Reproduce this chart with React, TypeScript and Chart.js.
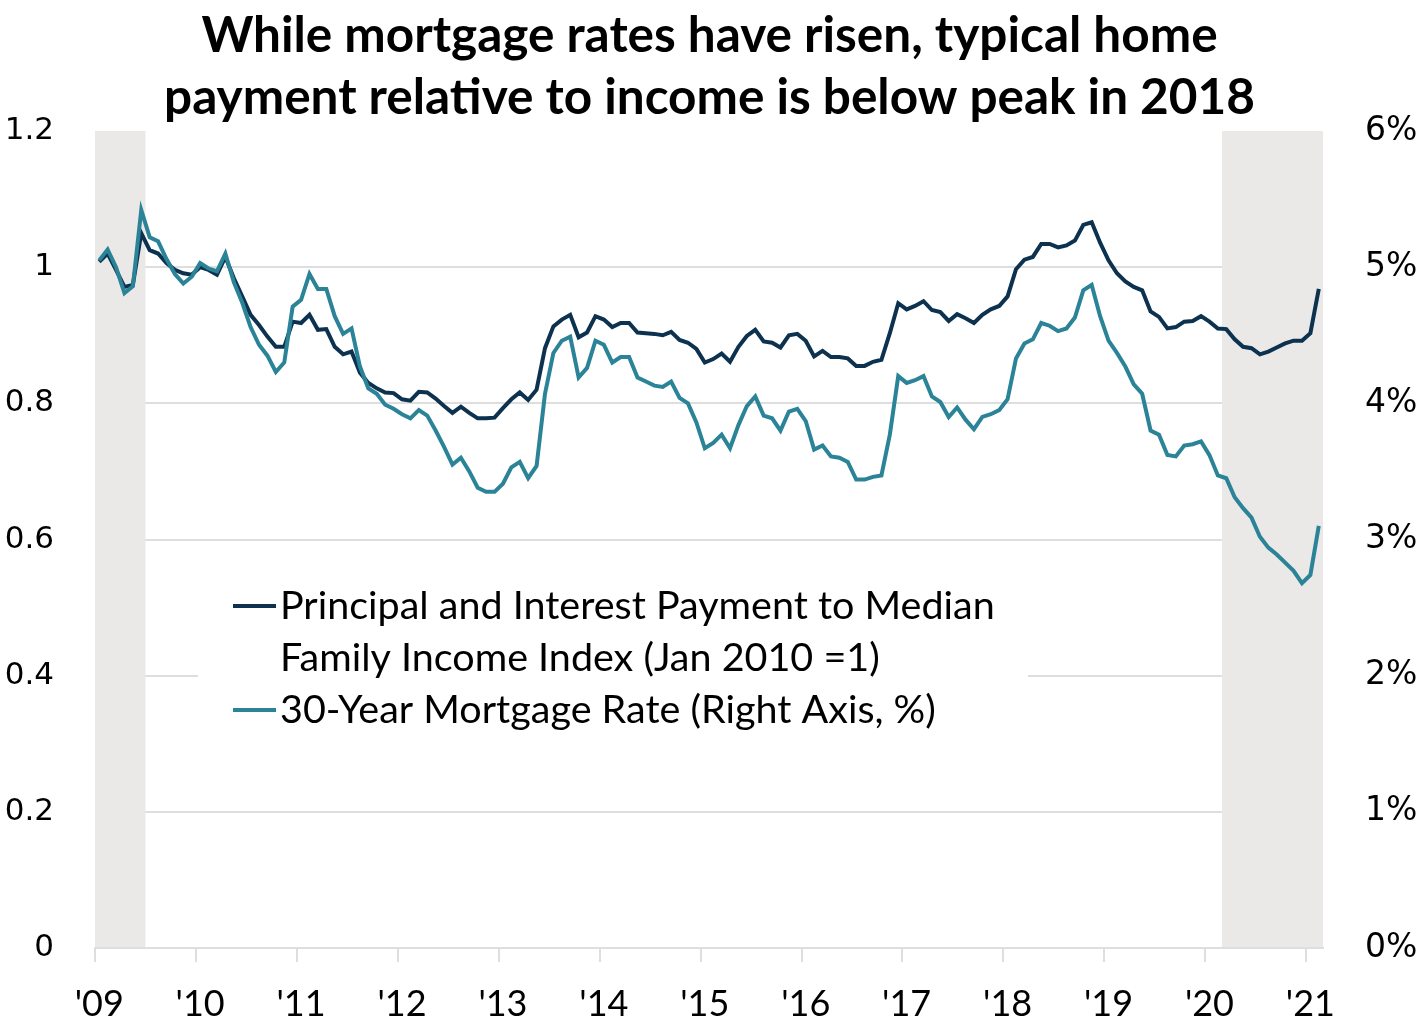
import { useEffect, useRef } from "react";
import { Chart, registerables } from "chart.js";

Chart.register(...registerables);

const TITLE_LINES = [
  "While mortgage rates have risen, typical home",
  "payment relative to income is below peak in 2018",
];

const MONTH_NAMES = ["Jan", "Feb", "Mar", "Apr", "May", "Jun", "Jul", "Aug", "Sep", "Oct", "Nov", "Dec"];
const FIRST_YEAR = 2009;
const MONTH_COUNT = 146; // Jan 2009 through Feb 2021

// Monthly categories, e.g. "Jan 2009"
const categories = Array.from(
  { length: MONTH_COUNT },
  (_, i) => `${MONTH_NAMES[i % 12]} ${FIRST_YEAR + Math.floor(i / 12)}`
);

// One label per January
const yearTickLabels = ["'09", "'10", "'11", "'12", "'13", "'14", "'15", "'16", "'17", "'18", "'19", "'20", "'21"];

// Principal and interest payment to median family income (Jan 2010 = 1)
const paymentToIncomeIndex = [
  1.008, 1.020, 0.996, 0.971, 0.974, 1.050, 1.025, 1.020, 1.006, 0.996, 0.991, 0.989,
  1.000, 0.996, 0.989, 1.015, 0.984, 0.957, 0.930, 0.915, 0.898, 0.883, 0.883, 0.920,
  0.918, 0.930, 0.908, 0.909, 0.883, 0.872, 0.876, 0.845, 0.830, 0.822, 0.816, 0.815,
  0.806, 0.804, 0.817, 0.816, 0.807, 0.796, 0.786, 0.795, 0.786, 0.778, 0.778, 0.779,
  0.793, 0.806, 0.816, 0.805, 0.820, 0.881, 0.913, 0.923, 0.930, 0.897, 0.904, 0.928,
  0.923, 0.912, 0.918, 0.918, 0.904, 0.903, 0.902, 0.900, 0.905, 0.893, 0.889, 0.880,
  0.860, 0.865, 0.873, 0.861, 0.883, 0.899, 0.908, 0.891, 0.889, 0.882, 0.900, 0.902,
  0.892, 0.869, 0.877, 0.868, 0.868, 0.866, 0.855, 0.855, 0.861, 0.864, 0.903, 0.947,
  0.938, 0.943, 0.950, 0.937, 0.934, 0.921, 0.931, 0.925, 0.918, 0.930, 0.938, 0.943,
  0.957, 0.997, 1.011, 1.015, 1.034, 1.034, 1.029, 1.032, 1.039, 1.062, 1.066, 1.036,
  1.010, 0.991, 0.979, 0.971, 0.966, 0.935, 0.927, 0.910, 0.912, 0.920, 0.921, 0.928,
  0.920, 0.910, 0.909, 0.894, 0.883, 0.881, 0.872, 0.876, 0.882, 0.888, 0.892, 0.892,
  0.903, 0.968,
];

// 30-year fixed mortgage rate, monthly average (%)
const mortgageRate = [
  5.05, 5.13, 5.00, 4.81, 4.86, 5.42, 5.22, 5.19, 5.06, 4.95, 4.88, 4.93,
  5.03, 4.99, 4.97, 5.10, 4.89, 4.74, 4.56, 4.43, 4.35, 4.23, 4.30, 4.71,
  4.76, 4.95, 4.84, 4.84, 4.64, 4.51, 4.55, 4.27, 4.11, 4.07, 3.99, 3.96,
  3.92, 3.89, 3.95, 3.91, 3.80, 3.68, 3.55, 3.60, 3.50, 3.38, 3.35, 3.35,
  3.41, 3.53, 3.57, 3.45, 3.54, 4.07, 4.37, 4.46, 4.49, 4.19, 4.26, 4.46,
  4.43, 4.30, 4.34, 4.34, 4.19, 4.16, 4.13, 4.12, 4.16, 4.04, 4.00, 3.86,
  3.67, 3.71, 3.77, 3.67, 3.84, 3.98, 4.05, 3.91, 3.89, 3.80, 3.94, 3.96,
  3.87, 3.66, 3.69, 3.61, 3.60, 3.57, 3.44, 3.44, 3.46, 3.47, 3.77, 4.20,
  4.15, 4.17, 4.20, 4.05, 4.01, 3.90, 3.97, 3.88, 3.81, 3.90, 3.92, 3.95,
  4.03, 4.33, 4.44, 4.47, 4.59, 4.57, 4.53, 4.55, 4.63, 4.83, 4.87, 4.64,
  4.46, 4.37, 4.27, 4.14, 4.07, 3.80, 3.77, 3.62, 3.61, 3.69, 3.70, 3.72,
  3.62, 3.47, 3.45, 3.31, 3.23, 3.16, 3.02, 2.94, 2.89, 2.83, 2.77, 2.68,
  2.74, 3.10,
];

// Recession periods shaded behind the lines (inclusive months)
const recessionStarts = ["Jan 2009", "Mar 2020"];
const recessionEnds = ["Jun 2009", "Feb 2021"];

const seriesLabels = [
  "Principal and Interest Payment to Median Family Income Index (Jan 2010 =1)",
  "30-Year Mortgage Rate (Right Axis, %)",
];
// Legend text broken into display lines per series
const legendLines = [
  ["Principal and Interest Payment to Median", "Family Income Index (Jan 2010 =1)"],
  ["30-Year Mortgage Rate (Right Axis, %)"],
];

const leftAxisMax = 1.2;
const leftAxisStep = 0.2;
const rightAxisMax = 6;
const rightAxisStep = 1;

const NAVY = "#0c3250";
const TEAL = "#2a8397";
const SHADE = "#ebe9e7";
const GRID = "#dedede";
const TEXT = "#000000";
const SANS = "Lato, 'Noto Sans', sans-serif";
const AXIS_FONT = "'DejaVu Sans', Verdana, sans-serif";

const W = 1421;
const H = 1032;

const recessionShading = {
  id: "recessionShading",
  beforeDatasetsDraw(chart: any) {
    const { ctx, chartArea, scales } = chart;
    const x = scales.x;
    const half = (x.getPixelForValue(1) - x.getPixelForValue(0)) / 2;
    ctx.save();
    ctx.fillStyle = SHADE;
    recessionStarts.forEach((start, k) => {
      const a = categories.indexOf(start);
      const b = categories.indexOf(recessionEnds[k]);
      const left = x.getPixelForValue(a) - half;
      const right = x.getPixelForValue(b) + half;
      ctx.fillRect(left, chartArea.top, right - left, chartArea.bottom - chartArea.top - 1);
    });
    ctx.restore();
  },
};

const titleAndLegend = {
  id: "titleAndLegend",
  afterDraw(chart: any) {
    const { ctx } = chart;
    ctx.save();
    // Title
    ctx.fillStyle = TEXT;
    ctx.textAlign = "center";
    ctx.textBaseline = "alphabetic";
    ctx.font = `bold 49.5px ${SANS}`;
    ctx.fillText(TITLE_LINES[0], W / 2 - 1, 52);
    ctx.fillText(TITLE_LINES[1], W / 2 - 1, 114);

    // Legend box inside the plot
    ctx.fillStyle = "#ffffff";
    ctx.fillRect(198, 562, 830, 190);
    const colors = [NAVY, TEAL];
    const lineGap = 52;
    let y = 606;
    ctx.font = `39.5px ${SANS}`;
    ctx.textAlign = "left";
    ctx.textBaseline = "middle";
    legendLines.forEach((lines, s) => {
      ctx.strokeStyle = colors[s];
      ctx.lineWidth = 4;
      ctx.beginPath();
      ctx.moveTo(233, y);
      ctx.lineTo(276, y);
      ctx.stroke();
      ctx.fillStyle = TEXT;
      lines.forEach((t) => {
        ctx.fillText(t, 280, y);
        y += lineGap;
      });
    });
    ctx.restore();
  },
};

export default function App() {
  const canvasRef = useRef<HTMLCanvasElement | null>(null);

  useEffect(() => {
    document.body.style.margin = "0";
    const canvas = canvasRef.current;
    if (!canvas) return;

    const chart = new Chart(canvas, {
      type: "line",
      data: {
        labels: categories,
        datasets: [
          {
            label: seriesLabels[0],
            data: paymentToIncomeIndex,
            yAxisID: "y",
            borderColor: NAVY,
            borderWidth: 4,
            pointRadius: 0,
            tension: 0,
            order: 1,
          },
          {
            label: seriesLabels[1],
            data: mortgageRate,
            yAxisID: "y2",
            borderColor: TEAL,
            borderWidth: 4,
            pointRadius: 0,
            tension: 0,
            order: 0,
          },
        ],
      },
      options: {
        responsive: false,
        animation: false,
        devicePixelRatio: 1,
        layout: { padding: { top: 131, left: 0, right: 0, bottom: 0 } },
        plugins: {
          legend: { display: false },
          title: { display: false },
          tooltip: { enabled: false },
        },
        scales: {
          x: {
            type: "category",
            offset: true,
            afterFit(scale: any) {
              scale.height = 84;
            },
            grid: {
              display: true,
              offset: true,
              drawOnChartArea: false,
              drawTicks: true,
              tickLength: 14,
              lineWidth: 2,
              color: (ctx: any) =>
                typeof ctx.index === "number" && ctx.index % 12 === 0 ? GRID : "rgba(0,0,0,0)",
            },
            border: { display: true, color: GRID, width: 2 },
            ticks: {
              autoSkip: false,
              maxRotation: 0,
              minRotation: 0,
              padding: 21,
              color: TEXT,
              font: { family: SANS, size: 36 },
              callback: (_v: any, index: number) =>
                index % 12 === 0 ? yearTickLabels[index / 12] : "",
            },
          },
          y: {
            type: "linear",
            position: "left",
            min: 0,
            max: leftAxisMax,
            afterFit(scale: any) {
              scale.width = 95;
            },
            grid: {
              drawTicks: false,
              lineWidth: 2,
              color: (ctx: any) =>
                ctx.tick && Math.abs(ctx.tick.value - leftAxisMax) < 1e-9 ? "rgba(0,0,0,0)" : GRID,
            },
            border: { display: false },
            ticks: {
              stepSize: leftAxisStep,
              padding: 41,
              color: TEXT,
              font: { family: AXIS_FONT, size: 31 },
              callback: (v: any) => String(Number(Number(v).toFixed(1))),
            },
          },
          y2: {
            type: "linear",
            position: "right",
            min: 0,
            max: rightAxisMax,
            afterFit(scale: any) {
              scale.width = W - 1323;
            },
            grid: { display: false, drawOnChartArea: false },
            border: { display: false },
            ticks: {
              stepSize: rightAxisStep,
              padding: 34,
              color: TEXT,
              font: { family: AXIS_FONT, size: 33 },
              callback: (v: any) => `${v}%`,
            },
          },
        },
      },
      plugins: [recessionShading, titleAndLegend],
    });

    return () => chart.destroy();
  }, []);

  return (
    <div style={{ position: "absolute", left: 0, top: 0, width: W, height: H, background: "#fff" }}>
      <canvas ref={canvasRef} width={W} height={H} style={{ display: "block" }} />
    </div>
  );
}
